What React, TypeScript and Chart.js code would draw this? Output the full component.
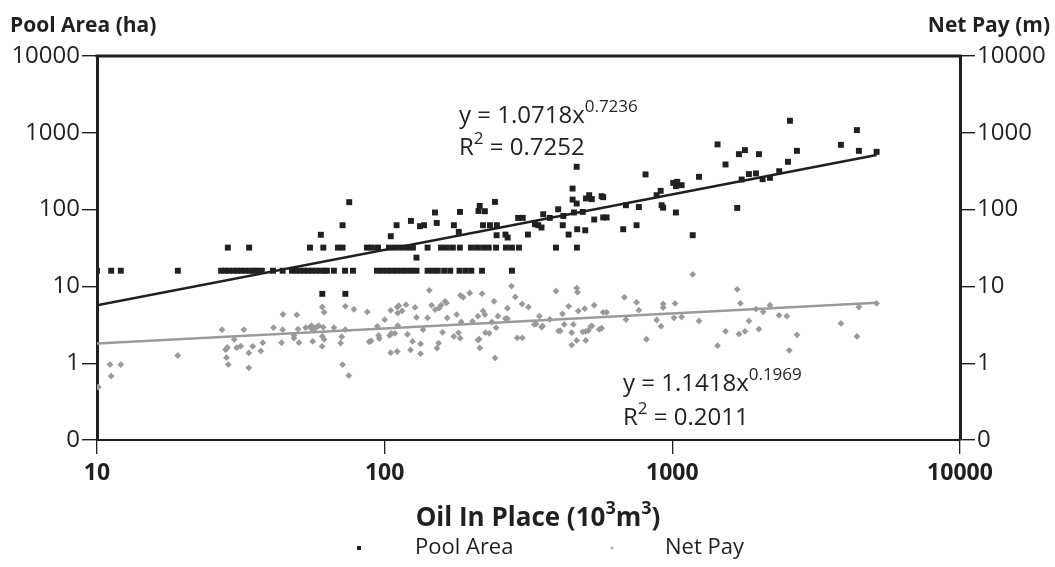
import React, { useEffect, useRef } from "react";
import { Chart, registerables } from "chart.js";

Chart.register(...registerables);

const FONT = "'Open Sans', 'DejaVu Sans', sans-serif";
const DARK = "#231f20";
const GRAY = "#9a9a9a";

// Pool Area (ha) vs Oil In Place (10^3 m^3)
const poolX = [
  10, 11.2, 12.1, 19.1, 27, 27.9, 28.8, 29.9, 30.7, 31.7, 32.8, 34, 35, 36, 37.4, 40.9, 44.2,
  47.6, 49.2, 50.8, 52.5, 54.2, 56, 57.9, 59.8, 61.8, 63, 66.6, 72.8, 77.6, 94, 97.8, 101.8,
  105.9, 110, 114.5, 119, 124, 129, 141, 147, 153, 161, 169, 182, 191, 200, 218, 277,
  28.5, 33.8, 55, 61.2, 68.8, 71.4, 86.8, 90.3, 94.8, 103.5, 108.6, 114, 119.6, 125.4, 141,
  157, 164.6, 172.6, 182.6, 199.5, 209.4, 219.8, 230, 243.8, 264, 277, 293, 394, 466,
  60.7, 73,
  129, 60, 75.3, 71.4, 105, 110, 123.4, 132.7, 137, 149.6, 151.7, 174, 181, 182.7, 212, 214,
  223, 219.7, 232.3, 245.5, 241.7, 245, 263, 267.6, 291, 302, 314.8, 333, 342, 351, 355.8,
  375, 401, 418, 416, 436, 450, 450, 465, 465, 455, 467, 488, 498, 501, 514, 525, 535, 568,
  575, 575, 591, 675, 690, 751, 765, 807, 882, 911, 918, 929, 1007, 1040, 1029, 1029, 1077,
  1177, 1238, 1436, 1531, 1681, 1704, 1742, 1788, 1846, 1953, 2000, 2060, 2184, 2353, 2523,
  2564, 2711, 3855, 4382, 4452, 5130,
];
const poolY = [
  16, 16, 16, 16, 16, 16, 16, 16, 16, 16, 16, 16, 16, 16, 16, 16, 16,
  16, 16, 16, 16, 16, 16, 16, 16, 16, 16, 16, 16, 16, 16, 16, 16,
  16, 16, 16, 16, 16, 16, 16, 16, 16, 16, 16, 16, 16, 16, 16, 16,
  32, 32, 32, 32, 32, 32, 32, 32, 32, 32, 32, 32, 32, 32, 32,
  32, 32, 32, 32, 32, 32, 32, 32, 32, 32, 32, 32, 32, 32,
  8, 8,
  23.7, 47, 125, 62.6, 45, 62.6, 71.3, 60.8, 62.6, 91.7, 67, 62.6, 51.3, 93.3, 96, 111.7,
  95.3, 62.6, 62.6, 62.6, 126, 46.4, 47.3, 43.3, 78, 78, 47.3, 64.5, 62.6, 58.4, 87,
  78, 101, 82.7, 62.6, 47.3, 188, 135, 361, 120, 91.7, 55.5, 93.3, 53.8, 139.6, 154, 137, 74.3, 149.5,
  145, 79, 79, 55.5, 114, 62.6, 108, 287, 154, 175.5, 114, 106, 223, 230, 202, 91.7, 208,
  46.4, 267, 706, 387, 105, 527, 246.6, 595, 290, 296, 527, 249, 259, 316, 419,
  1434, 582, 697, 1084, 582, 565,
];

// Net Pay (m) vs Oil In Place (10^3 m^3)
const netX = [
  10.1, 11.1, 12.1, 11.2, 19.1, 27.2, 32.4, 30, 28.2, 28.4, 28.0, 30.6, 31.6, 28.2, 28.6, 33.7,
  33.7, 34.8, 37.1, 37.7, 41.1, 44.2, 44.3, 43.8, 49.5, 50, 48.4, 48.4, 50.4, 53.1, 55, 55.7,
  56.9, 58, 59, 56.5, 60.7, 61.6, 61.2, 60.7, 61.6, 60.6, 56.2, 66.6, 71.4, 75, 73, 78.2, 73,
  70.9, 70.3, 87, 94.3, 95.3, 95.8, 100, 88.3, 89.7, 105, 104, 105.5, 105, 110.6, 111, 112,
  110.6, 108.5, 111, 115, 118.6, 120, 123, 125, 127.5, 129, 133.3, 133.3, 136, 141, 143, 145.6,
  150, 154.5, 157, 162, 164, 152, 154, 159, 165, 174, 178, 180.5, 183, 184.5, 183.5, 187.5,
  197.5, 202, 211, 213, 214, 211, 218, 220, 223, 224, 231, 236, 240, 242, 244, 247.5, 263, 267,
  267, 276, 284.5, 289, 301, 300.5, 316, 331, 336, 345, 351, 354, 375, 394, 402, 408, 415, 421,
  436, 447, 447, 453, 465, 465, 468, 471, 488, 500, 510, 500, 496, 520, 525, 535, 557, 568, 575,
  591, 681, 690, 751, 765, 813, 882, 914, 929, 929, 1022, 1013, 1077, 1177, 1238, 1436, 1531,
  1681, 1705, 1788, 1724, 1846, 1953, 2000, 2070, 2184, 2350, 2500, 2550, 2711, 3855, 4382,
  4452, 5130,
];
const netY = [
  0.49, 0.96, 0.96, 0.68, 1.26, 2.73, 2.73, 2.04, 1.55, 1.6, 1.5, 1.59, 1.67, 1.18, 0.96, 0.87,
  1.36, 1.66, 1.44, 1.85, 2.9, 2.73, 4.33, 1.85, 4.25, 2.78, 2.12, 2.3, 1.85, 2.9, 2.95, 3.08,
  2.8, 2.95, 3.08, 2.69, 5.39, 4.6, 2.93, 2.24, 2.04, 1.66, 1.92, 2.9, 0.96, 0.69, 5.5, 5.03, 2.73,
  2.21, 1.83, 4.65, 3.02, 2.3, 2.09, 3.69, 1.9, 1.95, 4.88, 2.3, 2.45, 1.37, 5.39, 4.5, 5.6,
  1.42, 2.45, 3.09, 4.79, 5.79, 2.37, 1.49, 1.92, 5.32, 3.95, 1.78, 1.33, 2.73, 3.89, 8.9, 5.68,
  4.98, 5.2, 5.68, 6.4, 6.1, 1.57, 1.83, 2.52, 3.89, 2.23, 4.3, 2.5, 2.12, 3.44, 7.66, 7.2,
  8.2, 3.5, 2.0, 2.05, 1.58, 4.1, 8.05, 4.8, 4.3, 2.5, 2.45, 3.44, 6.4, 1.17, 2.9, 4.1, 3.8, 3.8,
  5.2, 10.1, 7.3, 2.14, 2.14, 5.88, 5.39, 3.2, 3.25, 4.1, 2.95, 3.05, 3.72, 8.7, 2.63, 2.63, 4.4, 3.2,
  5.5, 2.5, 1.72, 3.2, 1.98, 9.5, 8.4, 4.8, 2.56, 2.6, 2.65, 1.98, 5.13, 3.0, 3.05, 5.68, 2.75, 2.85, 4.6,
  4.6, 7.2, 3.7, 6.2, 4.9, 2.05, 3.65, 3.03, 5.9, 5.3, 6.0, 3.9, 4.0, 14.3, 3.55, 1.69, 2.6,
  9.16, 2.4, 2.6, 6.02, 3.55, 5.07, 2.78, 4.66, 5.68, 4.2, 4.1, 1.47, 2.34, 3.3, 2.23,
  5.39, 6.0,
];

// Power-law trend lines (straight on log-log), end points
const trendX = [10, 5130];
const poolTrendY = [5.67, 515];
const netTrendY = [1.8, 6.12];

const xTicks = [10, 100, 1000, 10000];
const xTickLabels = ["10", "100", "1000", "10000"];
const yTicks = [0.1, 1, 10, 100, 1000, 10000];
const yTickLabels = ["0", "1", "10", "100", "1000", "10000"];

type Part = { t: string; sup?: boolean };

function drawRich(ctx: CanvasRenderingContext2D, x: number, y: number, parts: Part[], size: number, weight: string, align: "left" | "center" = "left") {
  const supSize = Math.round(size * 0.7);
  const measure = (p: Part) => {
    ctx.font = `${weight} ${p.sup ? supSize : size}px ${FONT}`;
    return ctx.measureText(p.t).width;
  };
  let total = 0;
  parts.forEach((p) => (total += measure(p)));
  let cx = align === "center" ? x - total / 2 : x;
  ctx.textAlign = "left";
  ctx.textBaseline = "alphabetic";
  parts.forEach((p) => {
    ctx.font = `${weight} ${p.sup ? supSize : size}px ${FONT}`;
    ctx.fillText(p.t, cx, p.sup ? y - size * 0.45 : y);
    cx += ctx.measureText(p.t).width;
  });
}

const decorPlugin = {
  id: "decor",
  afterDraw(chart: any) {
    const ctx: CanvasRenderingContext2D = chart.ctx;
    const a = chart.chartArea;
    ctx.save();
    // top frame line
    ctx.strokeStyle = DARK;
    ctx.lineWidth = 3;
    ctx.beginPath();
    ctx.moveTo(a.left - 1.5, a.top);
    ctx.lineTo(a.right + 1.5, a.top);
    ctx.stroke();

    ctx.fillStyle = DARK;
    // axis titles
    ctx.font = `bold 21px ${FONT}`;
    ctx.textBaseline = "alphabetic";
    ctx.textAlign = "left";
    ctx.fillText("Pool Area (ha)", 10, 32);
    ctx.textAlign = "right";
    ctx.fillText("Net Pay (m)", 1050, 32);

    // x title
    drawRich(ctx, 538, 526, [{ t: "Oil In Place (10" }, { t: "3", sup: true }, { t: "m" }, { t: "3", sup: true }, { t: ")" }], 26, "bold", "center");

    // equations
    drawRich(ctx, 459, 123, [{ t: "y = 1.0718x" }, { t: "0.7236", sup: true }], 24, "normal");
    drawRich(ctx, 459, 155, [{ t: "R" }, { t: "2", sup: true }, { t: " = 0.7252" }], 24, "normal");
    drawRich(ctx, 623, 391, [{ t: "y = 1.1418x" }, { t: "0.1969", sup: true }], 24, "normal");
    drawRich(ctx, 623, 425, [{ t: "R" }, { t: "2", sup: true }, { t: " = 0.2011" }], 24, "normal");

    // legend
    ctx.fillStyle = DARK;
    ctx.fillRect(357, 546, 4, 4);
    ctx.fillStyle = "#b0b0b0";
    ctx.beginPath();
    ctx.arc(612, 548, 1.6, 0, Math.PI * 2);
    ctx.fill();
    ctx.fillStyle = DARK;
    ctx.font = `normal 22px ${FONT}`;
    ctx.textAlign = "left";
    ctx.fillText("Pool Area", 415, 554);
    ctx.fillText("Net Pay", 665, 554);
    ctx.restore();
  },
};

function yAxis(position: "left" | "right", width: number) {
  return {
    type: "logarithmic" as const,
    position,
    min: 0.1,
    max: 10000,
    afterBuildTicks: (s: any) => {
      s.ticks = yTicks.map((v) => ({ value: v }));
    },
    afterFit: (s: any) => {
      s.width = width;
    },
    ticks: {
      callback: (_v: any, i: number) => yTickLabels[i],
      font: { family: FONT, size: 24, weight: "normal" as const },
      color: DARK,
      padding: 2,
      autoSkip: false,
    },
    grid: { drawOnChartArea: false, drawTicks: true, tickLength: 15, color: DARK, lineWidth: 1.4 },
    border: { color: DARK, width: 3 },
  };
}

export default function App() {
  const ref = useRef<HTMLCanvasElement | null>(null);
  useEffect(() => {
    if (!ref.current) return;
    const chart = new Chart(ref.current, {
      type: "scatter",
      data: {
        datasets: [
          {
            type: "line",
            label: "Pool Area trend",
            data: trendX.map((x, i) => ({ x, y: poolTrendY[i] })),
            borderColor: DARK,
            borderWidth: 2.5,
            pointRadius: 0,
            order: 0,
          } as any,
          {
            type: "line",
            label: "Net Pay trend",
            data: trendX.map((x, i) => ({ x, y: netTrendY[i] })),
            borderColor: GRAY,
            borderWidth: 2.5,
            pointRadius: 0,
            order: 0,
          } as any,
          {
            label: "Pool Area",
            data: poolX.map((x, i) => ({ x, y: poolY[i] })),
            pointStyle: "rect",
            pointRadius: 4.2,
            backgroundColor: DARK,
            borderWidth: 0,
            order: 1,
          },
          {
            label: "Net Pay",
            data: netX.map((x, i) => ({ x, y: netY[i] })),
            pointStyle: "rectRot",
            pointRadius: 3.4,
            backgroundColor: GRAY,
            borderWidth: 0,
            order: 2,
          },
        ],
      },
      options: {
        responsive: false,
        animation: false,
        layout: { padding: { left: 0, right: 0, top: 56, bottom: 87 } },
        plugins: { legend: { display: false }, tooltip: { enabled: false } },
        scales: {
          x: {
            type: "logarithmic",
            position: "bottom",
            min: 10,
            max: 10000,
            afterBuildTicks: (s: any) => {
              s.ticks = xTicks.map((v) => ({ value: v }));
            },
            afterFit: (s: any) => {
              s.height = 40;
            },
            ticks: {
              callback: (_v: any, i: number) => xTickLabels[i],
              font: { family: FONT, size: 23, weight: "bold" },
              color: DARK,
              padding: 6,
              maxRotation: 0,
              autoSkip: false,
            },
            grid: { drawOnChartArea: false, drawTicks: true, tickLength: 14, color: DARK, lineWidth: 1.3 },
            border: { color: DARK, width: 2 },
          },
          y: yAxis("left", 97),
          y2: yAxis("right", 95),
        },
      } as any,
      plugins: [decorPlugin],
    });
    return () => chart.destroy();
  }, []);
  return (
    <div style={{ position: "fixed", left: 0, top: 0, width: 1055, height: 567, background: "#fff" }}>
      <canvas ref={ref} width={1055} height={567} />
    </div>
  );
}
